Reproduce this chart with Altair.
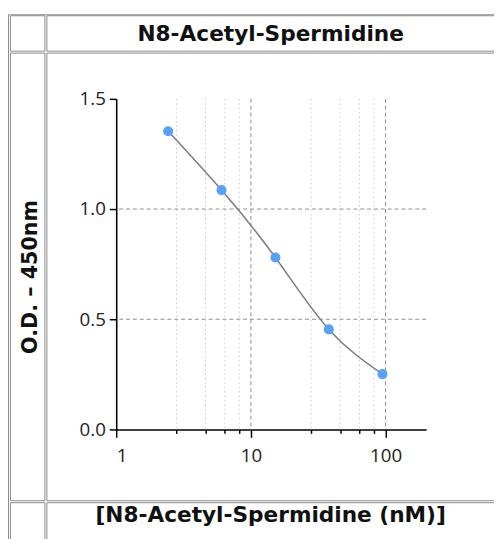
import altair as alt
import pandas as pd

# ---- data ----
conc = [2.43, 6.05, 15.2, 37.9, 94.8]          # nM
od = [1.353, 1.086, 0.780, 0.454, 0.251]        # O.D. 450nm
x_major = [1, 10, 100]
x_minor = [2.8, 4.6, 6.4, 8.2, 28, 46, 64, 82]
x_grid_major = [10, 100]
y_ticks = [0.0, 0.5, 1.0, 1.5]
y_grid = [0.5, 1.0]
title_text = "N8-Acetyl-Spermidine"
x_title = "[N8-Acetyl-Spermidine (nM)]"
y_title = "O.D. – 450nm"

# ---- layout ----
W, H = 315, 336
PAD_L, PAD_T = 110, 88
PAD_R = 494 - PAD_L - W
PAD_B = 531 - PAD_T - H
OX, OY = 8 + PAD_L, 8 + PAD_T


def px(p):
    return p - OX + 0.5


def py(p):
    return p - OY + 0.5


one = alt.Data(values=[{"k": 0}])
BORDER = "#8a8a8a"

xs = alt.Scale(type="log", domain=[1, 200], nice=False)
ys = alt.Scale(domain=[0, 1.5], nice=False, zero=False)

pts = pd.DataFrame({"conc": conc, "od": od})


def cell(x0, x1, y0, y1):
    return alt.Chart(one).mark_rect(
        fillOpacity=0, stroke=BORDER, strokeWidth=1
    ).encode(
        x=alt.value(px(x0)), x2=alt.value(px(x1)),
        y=alt.value(py(y0)), y2=alt.value(py(y1)),
    )


far_x, far_y = 540, 580
cells = [
    cell(8, far_x, 10, far_y),
    cell(10, 45, 11, 47),
    cell(47, far_x, 11, 47),
    cell(10, 45, 49, 504),
    cell(47, far_x, 49, 504),
    cell(10, 45, 506, far_y),
    cell(47, far_x, 506, far_y),
]

minor_grid = alt.Chart(pd.DataFrame({"v": x_minor})).mark_rule(
    color="#c9c9c9", strokeWidth=1, strokeDash=[1.5, 3]
).encode(
    x=alt.X("v:Q", scale=xs, axis=alt.Axis(
        values=x_minor, labels=False, domain=False, tickSize=4,
        tickColor="black", tickWidth=1.5, grid=False, title=None,
        orient="bottom", zindex=1))
)

major_grid = alt.Chart(pd.DataFrame({"v": x_grid_major})).mark_rule(
    color="#8c8c8c", strokeWidth=1, strokeDash=[4, 3]
).encode(x=alt.X("v:Q", scale=xs, axis=None))

h_grid = alt.Chart(pd.DataFrame({"v": y_grid})).mark_rule(
    color="#8c8c8c", strokeWidth=1, strokeDash=[4, 3]
).encode(y=alt.Y("v:Q", scale=ys, axis=None))

curve = alt.Chart(pts).mark_line(
    color="#7a7a7a", strokeWidth=1.5, interpolate="natural"
).encode(
    x=alt.X("conc:Q", scale=xs, axis=None),
    y=alt.Y("od:Q", scale=ys, axis=None),
)

LABEL_FONT = "Open Sans"
points = alt.Chart(pts).mark_circle(
    color="#58a1f6", opacity=1, size=105
).encode(
    x=alt.X("conc:Q", scale=xs, axis=alt.Axis(
        values=x_major, format="d", tickSize=8, tickWidth=1.5,
        tickColor="black", domainColor="black", domainWidth=1.6,
        labelFont=LABEL_FONT, labelFontSize=19, labelColor="#222",
        labelPadding=10, grid=False, title=None, orient="bottom",
        zindex=1)),
    y=alt.Y("od:Q", scale=ys, axis=alt.Axis(
        values=y_ticks, format=".1f", tickSize=7, tickWidth=1.5,
        tickColor="black", domainColor="black", domainWidth=1.6,
        labelFont=LABEL_FONT, labelFontSize=19, labelColor="#222",
        labelPadding=4, grid=False, title=None, orient="left",
        zindex=1)),
)

TITLE_FONT = "DejaVu Sans"
t_main = alt.Chart(one).mark_text(
    text=title_text, font=TITLE_FONT, fontWeight="bold", fontSize=22,
    align="center", baseline="alphabetic", color="#111"
).encode(x=alt.value(275 - OX), y=alt.value(37 - OY))

t_x = alt.Chart(one).mark_text(
    text=x_title, font=TITLE_FONT, fontWeight="bold", fontSize=22,
    align="center", baseline="alphabetic", color="#111"
).encode(x=alt.value(275 - OX), y=alt.value(526 - OY))

t_y = alt.Chart(one).mark_text(
    text=y_title, font=TITLE_FONT, fontWeight="bold", fontSize=21,
    align="center", baseline="alphabetic", angle=270, color="#111"
).encode(x=alt.value(37 - OX), y=alt.value(277 - OY))

chart = alt.layer(
    *cells, minor_grid, major_grid, h_grid, curve, points, t_main, t_x, t_y
).resolve_axis(x="independent", y="independent").properties(
    width=W, height=H,
    autosize=alt.AutoSizeParams(type="none"),
    padding={"left": PAD_L, "top": PAD_T, "right": PAD_R, "bottom": PAD_B},
).configure_view(stroke=None)

chart.save("out.html", embed_options={"renderer": "svg", "actions": False})
